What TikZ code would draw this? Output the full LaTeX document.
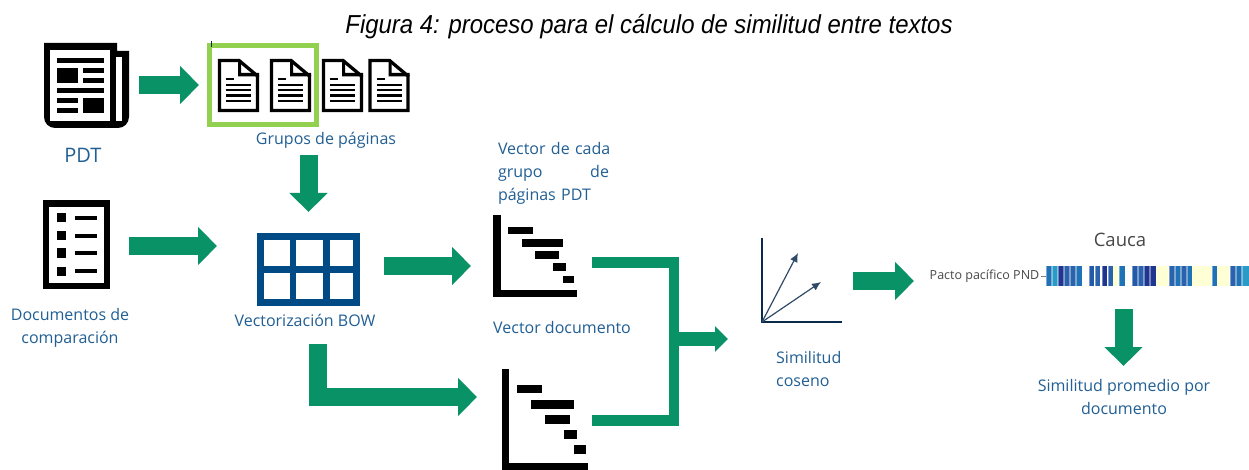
\documentclass[tikz,border=0pt]{standalone}
\usepackage{fontspec}
\setmainfont{Open Sans}
\newfontfamily\titlefont{Liberation Sans}
\usetikzlibrary{arrows.meta}
\definecolor{flowgreen}{HTML}{0A9267}
\definecolor{boxgreen}{HTML}{92D050}
\definecolor{gridblue}{HTML}{004A86}
\definecolor{labelblue}{HTML}{215F94}
\definecolor{navyaxis}{HTML}{0B2B4C}
\definecolor{graytext}{HTML}{484848}
\definecolor{pale}{HTML}{FFFFD6}
\definecolor{hA}{HTML}{1F72B6}
\definecolor{hB}{HTML}{2A9BC6}
\definecolor{hC}{HTML}{1F3590}
\definecolor{hD}{HTML}{2A62AD}
\definecolor{hE}{HTML}{2259A8}
\tikzset{
  x=1pt,y=-1pt,
  blockarrow/.style={draw=flowgreen,line width=18pt,-{Triangle[length=19pt,width=37pt]}},
  mergeline/.style={draw=flowgreen,line width=10.5pt,miter limit=10},
  mergearrow/.style={draw=flowgreen,line width=14pt,-{Triangle[length=13pt,width=25pt]}},
  lbl/.style={text=labelblue,font=\fontsize{16}{23}\selectfont,inner sep=0pt,align=center},
  lblleft/.style={lbl,align=left},
  graylbl/.style={text=graytext,inner sep=0pt},
  icon/.style={inner sep=0pt,minimum width=#1,minimum height=1pt},
  vecarrow/.style={draw=navyaxis!85!white,line width=1.2pt,-{Latex[length=9pt,width=8pt]}},
  docpage/.pic={
    \draw[black,line width=3.3pt,miter limit=4,fill=white] (1.5,1.5) -- (21,1.5) -- (39.5,17) -- (39.5,51.5) -- (1.5,51.5) -- cycle;
    \fill[black] (20,1) -- (23,1) -- (23,14) -- (41,14) -- (41,17.5) -- (20,17.5) -- cycle;
    \fill[black] (8,19) rectangle (16,21.2);
    \foreach \ly in {25,30,35.5,41} {\fill[black] (8,\ly) rectangle (33,\ly+2.5);}
  },
}
\begin{document}
\begin{tikzpicture}
\useasboundingbox (0,0) rectangle (1249,470);
\fill[white] (0,0) rectangle (1249,470);

% title
\node[inner sep=0pt,xscale=0.92] (title) at (649,27) {\titlefont\itshape\fontsize{26}{30}\selectfont Figura 4: proceso para el cálculo de similitud entre textos};

% newspaper
\fill[black] (44,43) -- (117,43) -- (117,51) -- (129,51) -- (129,117) arc[start angle=0,end angle=90,radius=11] -- (55,128) arc[start angle=90,end angle=180,radius=11] -- cycle;
\fill[white] (50,50) rectangle (110,121.5);
\fill[white] (116,57.5) rectangle (122,121);
\fill[black] (57,58) rectangle (104,63);
\fill[black] (57,68) rectangle (78,83);
\fill[black] (83,68) rectangle (104,73);
\fill[black] (83,78) rectangle (104,83);
\fill[black] (57,88) rectangle (104,93);
\fill[black] (57,98) rectangle (78,103);
\fill[black] (57,108) rectangle (78,113);
\fill[black] (83,98) rectangle (104,113);
\node[icon=85pt] (newspaper) at (86,85) {};
\node[lbl,font=\fontsize{20}{24}\selectfont] (pdt) at (83,155) {PDT};

% page icons
\pic at (218,59) {docpage};
\pic at (270,59) {docpage};
\pic at (322,59) {docpage};
\pic at (368.5,59) {docpage};
\draw[boxgreen,line width=5.5pt] (209.5,45.5) rectangle (316.5,124.5);
\fill[navyaxis] (211,41) rectangle (212,47);
\node[icon=110pt] (pages) at (263,85) {};
\node[lbl] (grupos) at (326,140) {Grupos de páginas};

% checklist
\draw[black,line width=6.5pt] (46,203.5) rectangle (107,286);
\foreach \ly in {218,236,253,271} {
  \fill[black] (57,\ly-4.5) rectangle (65.5,\ly+4.5);
  \fill[black] (75,\ly-2) rectangle (97,\ly+2);
}
\node[icon=67pt] (checklist) at (76,246) {};
\node[lbl] (docs) at (70,328) {Documentos de\\comparación};

% table
\fill[gridblue] (257,233) rectangle (360,306);
\foreach \xa/\xb in {264/290,296/323,330/353} {
  \foreach \ya/\yb in {240/266,273/299} {
    \fill[white] (\xa,\ya) rectangle (\xb,\yb);
  }
}
\node[icon=103pt] (table) at (308.5,269) {};
\node[lbl] (bow) at (305,320) {Vectorización BOW};

% chart 1
\fill[black] (493,215) rectangle (501,297);
\fill[black] (493,290) rectangle (577,297);
\foreach \xa/\ya/\xb/\yb in {508/227/533/234,522/239/563/247,535/251/559/259,553/263/566/271,563/276/574/283} {
  \fill[black] (\xa,\ya) rectangle (\xb,\yb);
}
\node[icon=84pt] (chartA) at (535,256) {};
\node[lblleft,text width=111pt] (vecgrupo) at (553.5,173.5) {\makebox[111pt][l]{Vector de cada}\\grupo\hfill de\\páginas PDT};
\node[lblleft,anchor=west] (vecdoc) at (493,327) {Vector documento};

% chart 2
\fill[black] (502,369) rectangle (509,470);
\fill[black] (502,463) rectangle (588,470);
\foreach \xa/\ya/\xb/\yb in {517/385/542/393,531/400/574/409,545/415/570/424,564/430/577/439,574/445/586/454} {
  \fill[black] (\xa,\ya) rectangle (\xb,\yb);
}
\node[icon=86pt] (chartB) at (545,420) {};

% cosine chart
\coordinate (origin) at (762,322);
\coordinate (axisY) at (762,238);
\coordinate (axisX) at (842,322);
\coordinate (vecA) at (798,253);
\coordinate (vecB) at (821,282);
\draw[navyaxis,line width=2.2pt] (axisY) -- (origin) -- (axisX);
\draw[vecarrow] (origin) -- (vecA);
\draw[vecarrow] (origin) -- (vecB);
\node[icon=80pt] (cosine) at (802,280) {};
\node[lblleft,anchor=north west] (simcos) at (776,351) {Similitud\\coseno};

% heatmap
\fill[pale] (1112,266) rectangle (1119,286);
\fill[pale] (1156,266) rectangle (1169,286);
\fill[pale] (1192,266) rectangle (1212,286);
\fill[pale] (1217,266) rectangle (1230,286);
\foreach \xa/\xb/\c in {1046/1052/hA,1052/1058/hB,1058/1064/hC,1064/1070/hD,1070/1076/hD,1076/1082/hA,
  1089/1094/hE,1095/1100/hD,1102/1107/hC,1108/1113/hD,1119/1125/hA,
  1132/1138/hE,1138/1144/hD,1144/1149.5/hC,1150/1156/hC,
  1169/1175/hD,1175/1181/hA,1181/1187/hD,1187/1192/hA,1212/1217/hA,
  1230/1236/hD,1236/1242/hA,1242/1249/hB} {
  \fill[\c] (\xa,266) rectangle (\xb,286);
  \fill[white,opacity=0.4] (\xa-0.7,266) rectangle (\xa+0.8,286);
}
\node[icon=203pt] (heat) at (1147.5,276) {};
\draw[graytext!70!white,line width=1pt] (1041,276) -- (1046,276);
\node[graylbl,anchor=east,font=\fontsize{12.5}{15}\selectfont] (pacto) at (1039.5,276) {Pacto pacífico PND};
\node[graylbl,font=\fontsize{18.5}{22}\selectfont] (cauca) at (1120,240) {Cauca};
\node[lbl] (prom) at (1124,397) {Similitud promedio por\\documento};

% connectors
\coordinate (a1s) at (139,85);  \coordinate (a1e) at (199,85);
\coordinate (a2s) at (129,246); \coordinate (a2e) at (217,246);
\coordinate (a3s) at (308.5,155); \coordinate (a3e) at (308.5,212);
\coordinate (a4s) at (384,266); \coordinate (a4e) at (471,266);
\coordinate (a5s) at (318,344); \coordinate (a5c) at (318,397); \coordinate (a5e) at (477,397);
\coordinate (a6s) at (853,281); \coordinate (a6e) at (914,281);
\coordinate (a7s) at (1123.5,309); \coordinate (a7e) at (1123.5,366);
\coordinate (m1) at (592,262.5); \coordinate (m2) at (674,262.5);
\coordinate (m3) at (674,420.5); \coordinate (m4) at (592,420.5);
\coordinate (m5) at (676,339); \coordinate (m6) at (728,339);
\draw[blockarrow] (a1s) -- (a1e);
\draw[blockarrow] (a2s) -- (a2e);
\draw[blockarrow] (a3s) -- (a3e);
\draw[blockarrow] (a4s) -- (a4e);
\draw[blockarrow] (a5s) -- (a5c) -- (a5e);
\draw[blockarrow] (a6s) -- (a6e);
\draw[blockarrow] (a7s) -- (a7e);
\draw[mergeline] (m1) -- (m2) -- (m3) -- (m4);
\draw[mergearrow] (m5) -- (m6);
\end{tikzpicture}
\end{document}
